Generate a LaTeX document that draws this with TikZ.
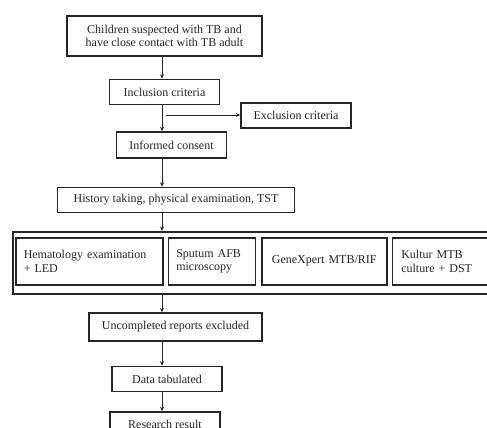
\documentclass[tikz,border=0pt]{standalone}
\usepackage{fontspec}
\setmainfont{Liberation Serif}
\usetikzlibrary{positioning,arrows.meta}
\tikzstyle{arrow} = [
    line width=0.8pt,
    -{Stealth[length=4.5pt,width=4pt]},
    draw=black!85
]
\begin{document}
\begin{tikzpicture}[
    x=1pt, y=-1pt,
    box/.style={
        draw=black!85,
        line width=1.5pt,
        fill=white,
        font=\fontsize{12}{13.5}\selectfont,
        text=black!85,
        align=center,
        inner sep=0pt
    },
    testbox/.style={
        box,
        minimum height=47pt,
        inner xsep=8pt,
        align=left
    }
]
\useasboundingbox (0,0) rectangle (487,428);
\clip (0,0) rectangle (487,428);
\fill[white] (0,0) rectangle (487,428);

% Nodes
\node[box, minimum width=195pt, minimum height=40pt] (suspect) at (164.5,36) {Children suspected with TB and\\have close contact with TB adult};
\node[box, minimum width=110pt, minimum height=25pt] (incl) [below=22pt of suspect] {Inclusion criteria};
\node[box, minimum width=110pt, minimum height=25pt] (excl) at (296,115.5) {Exclusion criteria};
\node[box, minimum width=110pt, minimum height=26pt] (consent) [below=26pt of incl, xshift=7pt] {Informed consent};
\node[box, minimum width=237pt, minimum height=25pt] (history) [below=28pt of consent, xshift=4.5pt] {History taking, physical examination, TST};

% Tests
\node[box, anchor=north west, minimum width=480pt, minimum height=62pt] (tests) at (12,231) {};
\node[testbox, anchor=north west, text width=131pt] (hema) at (15,237) {Hematology examination\\+ LED};
\node[testbox, text width=71pt] (sputum) [right=4pt of hema] {Sputum AFB\\microscopy};
\node[testbox, text width=109pt, align=center] (gene) [right=5pt of sputum] {GeneXpert MTB/RIF};
\node[testbox, text width=86pt, inner xsep=9pt] (kultur) [right=4pt of gene] {Kultur MTB\\culture + DST};

\node[box, minimum width=173pt, minimum height=28pt] (uncompl) at (175.5,327) {Uncompleted reports excluded};
\node[box, minimum width=110pt, minimum height=25pt] (tabul) [below=24pt of uncompl, xshift=-8.5pt] {Data tabulated};
\node[box, minimum width=110pt, minimum height=25pt] (result) [below=19pt of tabul, xshift=-2pt] {Research result};

% Arrows
\coordinate (spine) at (162,0);
\foreach \from/\to in {suspect/incl, incl/consent, consent/history, history/tests, tests/uncompl, uncompl/tabul, tabul/result} {
    \draw[arrow] (\from.south -| spine) -- (\to.north -| spine);
}
\coordinate (branch) at (166,115);
\draw[arrow] (branch) -- (branch -| excl.west);
\end{tikzpicture}
\end{document}
